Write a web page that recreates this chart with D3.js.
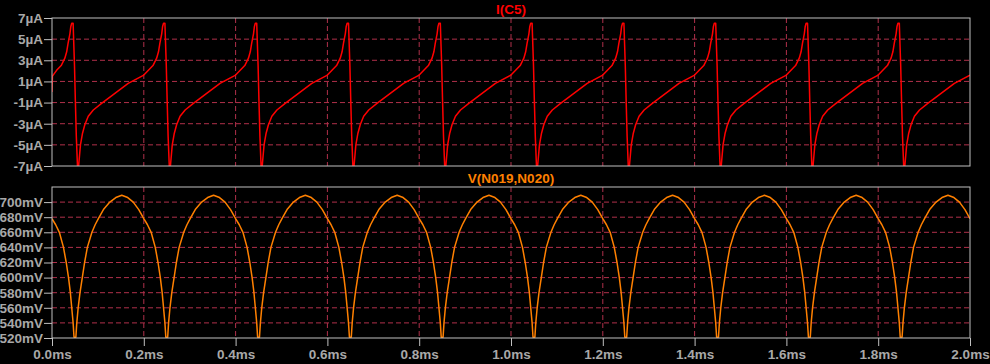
<!DOCTYPE html>
<html>
<head>
<meta charset="utf-8">
<script src="https://cdn.jsdelivr.net/npm/d3@7"></script>
<style>
  html, body { margin: 0; padding: 0; background: #000; }
  svg { display: block; }
  .tick text { font-family: "Liberation Sans", Arial, sans-serif; font-weight: bold; font-size: 13.5px; fill: #a8a8a8; }
  .tick line { stroke: #c0c0c0; }
  .title { font-family: "Liberation Sans", Arial, sans-serif; font-weight: bold; font-size: 13.5px; text-anchor: middle; }
</style>
</head>
<body>
<svg id="chart"></svg>
<script>
// x axis (time in microseconds, labelled in ms)
const xTicksUs = [0, 200, 400, 600, 800, 1000, 1200, 1400, 1600, 1800, 2000]
const xTickLabels = ["0.0ms", "0.2ms", "0.4ms", "0.6ms", "0.8ms", "1.0ms", "1.2ms", "1.4ms", "1.6ms", "1.8ms", "2.0ms"]

// I(C5) panel
const currentTicks = [7, 5, 3, 1, -1, -3, -5, -7]
const currentTickLabels = ["7µA", "5µA", "3µA", "1µA", "-1µA", "-3µA", "-5µA", "-7µA"]

// V(N019,N020) panel
const voltageTicks = [520, 540, 560, 580, 600, 620, 640, 660, 680, 700]
const voltageTickLabels = ["520mV", "540mV", "560mV", "580mV", "600mV", "620mV", "640mV", "660mV", "680mV", "700mV"]

// I(C5) trace
const currentTimeUs = [
  0, 1, 10, 20, 28, 32, 35, 39, 41, 43, 46, 47.5, 49, 51, 53, 55.5, 58, 62, 66.5, 71.5, 79, 90, 108, 137, 166,
  200, 210, 220, 228, 232, 235, 239, 241, 243, 246, 247.5, 249, 251, 253, 255.5, 258, 262, 266.5, 271.5, 279, 290, 308, 337, 366,
  400, 410, 420, 428, 432, 435, 439, 441, 443, 446, 447.5, 449, 451, 453, 455.5, 458, 462, 466.5, 471.5, 479, 490, 508, 537, 566,
  600, 610, 620, 628, 632, 635, 639, 641, 643, 646, 647.5, 649, 651, 653, 655.5, 658, 662, 666.5, 671.5, 679, 690, 708, 737, 766,
  800, 810, 820, 828, 832, 835, 839, 841, 843, 846, 847.5, 849, 851, 853, 855.5, 858, 862, 866.5, 871.5, 879, 890, 908, 937, 966,
  1000, 1010, 1020, 1028, 1032, 1035, 1039, 1041, 1043, 1046, 1047.5, 1049, 1051, 1053, 1055.5, 1058, 1062, 1066.5, 1071.5, 1079, 1090, 1108, 1137, 1166,
  1200, 1210, 1220, 1228, 1232, 1235, 1239, 1241, 1243, 1246, 1247.5, 1249, 1251, 1253, 1255.5, 1258, 1262, 1266.5, 1271.5, 1279, 1290, 1308, 1337, 1366,
  1400, 1410, 1420, 1428, 1432, 1435, 1439, 1441, 1443, 1446, 1447.5, 1449, 1451, 1453, 1455.5, 1458, 1462, 1466.5, 1471.5, 1479, 1490, 1508, 1537, 1566,
  1600, 1610, 1620, 1628, 1632, 1635, 1639, 1641, 1643, 1646, 1647.5, 1649, 1651, 1653, 1655.5, 1658, 1662, 1666.5, 1671.5, 1679, 1690, 1708, 1737, 1766,
  1800, 1810, 1820, 1828, 1832, 1835, 1839, 1841, 1843, 1846, 1847.5, 1849, 1851, 1853, 1855.5, 1858, 1862, 1866.5, 1871.5, 1879, 1890, 1908, 1937, 1966,
  2000
]
const currentUA = [
  0, 1.5, 2.05, 2.5, 3.2, 3.8, 4.6, 5.5, 6.2, 6.5, 6.5, 4.5, 2.5, -1, -4.2, -7, -7, -5.0, -3.9, -3.1, -2.3, -1.7, -1.07, -0.13, 0.82,
  1.6, 2.05, 2.5, 3.2, 3.8, 4.6, 5.5, 6.2, 6.5, 6.5, 4.5, 2.5, -1, -4.2, -7, -7, -5.0, -3.9, -3.1, -2.3, -1.7, -1.07, -0.13, 0.82,
  1.6, 2.05, 2.5, 3.2, 3.8, 4.6, 5.5, 6.2, 6.5, 6.5, 4.5, 2.5, -1, -4.2, -7, -7, -5.0, -3.9, -3.1, -2.3, -1.7, -1.07, -0.13, 0.82,
  1.6, 2.05, 2.5, 3.2, 3.8, 4.6, 5.5, 6.2, 6.5, 6.5, 4.5, 2.5, -1, -4.2, -7, -7, -5.0, -3.9, -3.1, -2.3, -1.7, -1.07, -0.13, 0.82,
  1.6, 2.05, 2.5, 3.2, 3.8, 4.6, 5.5, 6.2, 6.5, 6.5, 4.5, 2.5, -1, -4.2, -7, -7, -5.0, -3.9, -3.1, -2.3, -1.7, -1.07, -0.13, 0.82,
  1.6, 2.05, 2.5, 3.2, 3.8, 4.6, 5.5, 6.2, 6.5, 6.5, 4.5, 2.5, -1, -4.2, -7, -7, -5.0, -3.9, -3.1, -2.3, -1.7, -1.07, -0.13, 0.82,
  1.6, 2.05, 2.5, 3.2, 3.8, 4.6, 5.5, 6.2, 6.5, 6.5, 4.5, 2.5, -1, -4.2, -7, -7, -5.0, -3.9, -3.1, -2.3, -1.7, -1.07, -0.13, 0.82,
  1.6, 2.05, 2.5, 3.2, 3.8, 4.6, 5.5, 6.2, 6.5, 6.5, 4.5, 2.5, -1, -4.2, -7, -7, -5.0, -3.9, -3.1, -2.3, -1.7, -1.07, -0.13, 0.82,
  1.6, 2.05, 2.5, 3.2, 3.8, 4.6, 5.5, 6.2, 6.5, 6.5, 4.5, 2.5, -1, -4.2, -7, -7, -5.0, -3.9, -3.1, -2.3, -1.7, -1.07, -0.13, 0.82,
  1.6, 2.05, 2.5, 3.2, 3.8, 4.6, 5.5, 6.2, 6.5, 6.5, 4.5, 2.5, -1, -4.2, -7, -7, -5.0, -3.9, -3.1, -2.3, -1.7, -1.07, -0.13, 0.82,
  1.6
]

// V(N019,N020) trace
const voltageTimeUs = [
  0, 8, 16, 25, 31, 36, 40, 43, 46, 48, 52, 54, 57, 61, 66, 71, 77, 87, 94, 101, 113, 126, 139, 152, 165, 177, 189,
  200, 208, 216, 225, 231, 236, 240, 243, 246, 248, 252, 254, 257, 261, 266, 271, 277, 287, 294, 301, 313, 326, 339, 352, 365, 377, 389,
  400, 408, 416, 425, 431, 436, 440, 443, 446, 448, 452, 454, 457, 461, 466, 471, 477, 487, 494, 501, 513, 526, 539, 552, 565, 577, 589,
  600, 608, 616, 625, 631, 636, 640, 643, 646, 648, 652, 654, 657, 661, 666, 671, 677, 687, 694, 701, 713, 726, 739, 752, 765, 777, 789,
  800, 808, 816, 825, 831, 836, 840, 843, 846, 848, 852, 854, 857, 861, 866, 871, 877, 887, 894, 901, 913, 926, 939, 952, 965, 977, 989,
  1000, 1008, 1016, 1025, 1031, 1036, 1040, 1043, 1046, 1048, 1052, 1054, 1057, 1061, 1066, 1071, 1077, 1087, 1094, 1101, 1113, 1126, 1139, 1152, 1165, 1177, 1189,
  1200, 1208, 1216, 1225, 1231, 1236, 1240, 1243, 1246, 1248, 1252, 1254, 1257, 1261, 1266, 1271, 1277, 1287, 1294, 1301, 1313, 1326, 1339, 1352, 1365, 1377, 1389,
  1400, 1408, 1416, 1425, 1431, 1436, 1440, 1443, 1446, 1448, 1452, 1454, 1457, 1461, 1466, 1471, 1477, 1487, 1494, 1501, 1513, 1526, 1539, 1552, 1565, 1577, 1589,
  1600, 1608, 1616, 1625, 1631, 1636, 1640, 1643, 1646, 1648, 1652, 1654, 1657, 1661, 1666, 1671, 1677, 1687, 1694, 1701, 1713, 1726, 1739, 1752, 1765, 1777, 1789,
  1800, 1808, 1816, 1825, 1831, 1836, 1840, 1843, 1846, 1848, 1852, 1854, 1857, 1861, 1866, 1871, 1877, 1887, 1894, 1901, 1913, 1926, 1939, 1952, 1965, 1977, 1989,
  2000
]
const voltageMV = [
  678, 670, 660, 640, 620, 600, 580, 560, 540, 521, 521, 540, 560, 580, 600, 620, 640, 660, 670, 678, 691, 700, 706, 709, 706, 700, 690,
  678, 670, 660, 640, 620, 600, 580, 560, 540, 521, 521, 540, 560, 580, 600, 620, 640, 660, 670, 678, 691, 700, 706, 709, 706, 700, 690,
  678, 670, 660, 640, 620, 600, 580, 560, 540, 521, 521, 540, 560, 580, 600, 620, 640, 660, 670, 678, 691, 700, 706, 709, 706, 700, 690,
  678, 670, 660, 640, 620, 600, 580, 560, 540, 521, 521, 540, 560, 580, 600, 620, 640, 660, 670, 678, 691, 700, 706, 709, 706, 700, 690,
  678, 670, 660, 640, 620, 600, 580, 560, 540, 521, 521, 540, 560, 580, 600, 620, 640, 660, 670, 678, 691, 700, 706, 709, 706, 700, 690,
  678, 670, 660, 640, 620, 600, 580, 560, 540, 521, 521, 540, 560, 580, 600, 620, 640, 660, 670, 678, 691, 700, 706, 709, 706, 700, 690,
  678, 670, 660, 640, 620, 600, 580, 560, 540, 521, 521, 540, 560, 580, 600, 620, 640, 660, 670, 678, 691, 700, 706, 709, 706, 700, 690,
  678, 670, 660, 640, 620, 600, 580, 560, 540, 521, 521, 540, 560, 580, 600, 620, 640, 660, 670, 678, 691, 700, 706, 709, 706, 700, 690,
  678, 670, 660, 640, 620, 600, 580, 560, 540, 521, 521, 540, 560, 580, 600, 620, 640, 660, 670, 678, 691, 700, 706, 709, 706, 700, 690,
  678, 670, 660, 640, 620, 600, 580, 560, 540, 521, 521, 540, 560, 580, 600, 620, 640, 660, 670, 678, 691, 700, 706, 709, 706, 700, 690,
  678
]

const W = 990, H = 364
const left = 52, right = 970
const gridColor = "#b0304a", frameColor = "#c0c0c0"

const svg = d3.select("#chart").attr("width", W).attr("height", H)

const fx = d3.scaleLinear().domain([0, 2000]).range([left, right])

const panels = [
  {id: "pi", top: 18, bottom: 166, domain: [-7, 7], ticks: currentTicks, labels: currentTickLabels,
   title: "I(C5)", titleY: 14, color: "#ff0000", xs: currentTimeUs, ys: currentUA, xAxis: false},
  {id: "pv", top: 187, bottom: 338, domain: [520, 720], ticks: voltageTicks, labels: voltageTickLabels,
   title: "V(N019,N020)", titleY: 183, color: "#ff8000", xs: voltageTimeUs, ys: voltageMV, xAxis: true}
]

panels.forEach(p => {
  const fy = d3.scaleLinear().domain(p.domain).range([p.bottom, p.top])
  const g = svg.append("g")

  g.append("clipPath").attr("id", "clip-" + p.id)
    .append("rect")
    .attr("x", left).attr("y", p.top)
    .attr("width", right - left).attr("height", p.bottom - p.top)

  // dashed grid
  const lo = p.domain[0], hi = p.domain[1]
  g.append("g").selectAll("line")
    .data(p.ticks.filter(t => t > lo && t < hi))
    .join("line")
    .attr("x1", left).attr("x2", right)
    .attr("y1", d => fy(d)).attr("y2", d => fy(d))
    .attr("stroke", gridColor).attr("stroke-dasharray", "5,3")
  g.append("g").selectAll("line")
    .data(xTicksUs.slice(1, -1))
    .join("line")
    .attr("x1", d => fx(d)).attr("x2", d => fx(d))
    .attr("y1", p.top).attr("y2", p.bottom)
    .attr("stroke", gridColor).attr("stroke-dasharray", "5,3")

  // trace
  const pts = p.xs.map((t, i) => [t, p.ys[i]])
  g.append("path")
    .datum(pts)
    .attr("clip-path", "url(#clip-" + p.id + ")")
    .attr("fill", "none")
    .attr("stroke", p.color)
    .attr("stroke-width", 1.5)
    .attr("stroke-linejoin", "round")
    .attr("d", d3.line().x(d => fx(d[0])).y(d => fy(d[1])))

  // frame
  g.append("rect")
    .attr("x", left).attr("y", p.top)
    .attr("width", right - left).attr("height", p.bottom - p.top)
    .attr("fill", "none").attr("stroke", frameColor)

  // y axis
  const ay = g.append("g")
    .attr("transform", "translate(" + left + ",0)")
    .call(d3.axisLeft(fy)
      .tickValues(p.ticks)
      .tickFormat((d, i) => p.labels[i])
      .tickSize(8).tickSizeOuter(0).tickPadding(1))
  ay.select(".domain").remove()

  if (p.xAxis) {
    const ax = g.append("g")
      .attr("transform", "translate(0," + p.bottom + ")")
      .call(d3.axisBottom(fx)
        .tickValues(xTicksUs)
        .tickFormat((d, i) => xTickLabels[i])
        .tickSize(8).tickSizeOuter(0).tickPadding(3))
    ax.select(".domain").remove()
  }

  g.append("text")
    .attr("class", "title")
    .attr("x", (left + right) / 2)
    .attr("y", p.titleY)
    .attr("fill", p.color)
    .text(p.title)
})
</script>
</body>
</html>
